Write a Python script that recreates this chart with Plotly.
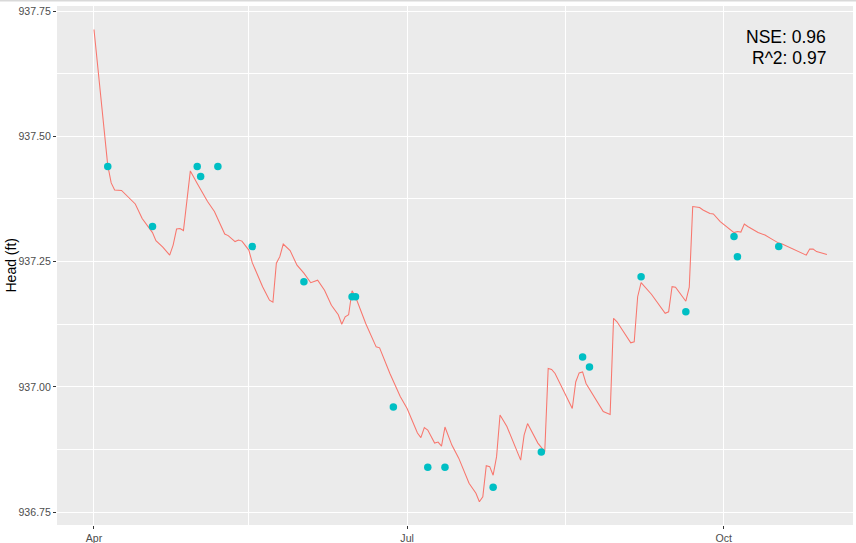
import plotly.graph_objects as go

# ---- data ----
line_dates = [
    "2019-04-01", "2019-04-05", "2019-04-06", "2019-04-07", "2019-04-09", "2019-04-11",
    "2019-04-13", "2019-04-15", "2019-04-18", "2019-04-19", "2019-04-21", "2019-04-23",
    "2019-04-24", "2019-04-25", "2019-04-26", "2019-04-27", "2019-04-29", "2019-05-01",
    "2019-05-04", "2019-05-06", "2019-05-08", "2019-05-09", "2019-05-10", "2019-05-12",
    "2019-05-13", "2019-05-14", "2019-05-16", "2019-05-17", "2019-05-20", "2019-05-22",
    "2019-05-23", "2019-05-24", "2019-05-25", "2019-05-26", "2019-05-28", "2019-05-30",
    "2019-06-01", "2019-06-03", "2019-06-05", "2019-06-07", "2019-06-09", "2019-06-11",
    "2019-06-12", "2019-06-13", "2019-06-14", "2019-06-15", "2019-06-16", "2019-06-19",
    "2019-06-22", "2019-06-23", "2019-06-26", "2019-06-29", "2019-07-01", "2019-07-04",
    "2019-07-05", "2019-07-06", "2019-07-07", "2019-07-09", "2019-07-10", "2019-07-11",
    "2019-07-12", "2019-07-14", "2019-07-16", "2019-07-19", "2019-07-21", "2019-07-22",
    "2019-07-23", "2019-07-24", "2019-07-25", "2019-07-26", "2019-07-27", "2019-07-28",
    "2019-07-30", "2019-08-03", "2019-08-04", "2019-08-05", "2019-08-08", "2019-08-10",
    "2019-08-11", "2019-08-12", "2019-08-13", "2019-08-18", "2019-08-19", "2019-08-20",
    "2019-08-21", "2019-08-22", "2019-08-27", "2019-08-29", "2019-08-30", "2019-08-31",
    "2019-09-04", "2019-09-05", "2019-09-06", "2019-09-07", "2019-09-10", "2019-09-14",
    "2019-09-15", "2019-09-16", "2019-09-17", "2019-09-20", "2019-09-21", "2019-09-22",
    "2019-09-24", "2019-09-25", "2019-09-27", "2019-09-28", "2019-09-30", "2019-10-04",
    "2019-10-05", "2019-10-06", "2019-10-07", "2019-10-08", "2019-10-11", "2019-10-13",
    "2019-10-15", "2019-10-17", "2019-10-18", "2019-10-21", "2019-10-25", "2019-10-26",
    "2019-10-27", "2019-10-28", "2019-10-31",
]
simulated_head = [
    937.713, 937.442, 937.407, 937.393, 937.392, 937.378,
    937.365, 937.336, 937.308, 937.292, 937.279, 937.263,
    937.283, 937.315, 937.316, 937.312, 937.431, 937.406,
    937.370, 937.350, 937.321, 937.305, 937.302, 937.290,
    937.293, 937.291, 937.273, 937.248, 937.200, 937.173,
    937.169, 937.247, 937.260, 937.285, 937.272, 937.243,
    937.227, 937.208, 937.213, 937.193, 937.163, 937.144,
    937.125, 937.140, 937.144, 937.192, 937.180, 937.126,
    937.080, 937.078, 937.027, 936.981, 936.957, 936.908,
    936.899, 936.919, 936.914, 936.888, 936.890, 936.882,
    936.920, 936.884, 936.858, 936.808, 936.788, 936.771,
    936.781, 936.843, 936.841, 936.824, 936.861, 936.944,
    936.921, 936.854, 936.904, 936.927, 936.888, 936.871,
    937.037, 937.035, 937.027, 936.957, 937.010, 937.028,
    937.030, 937.007, 936.951, 936.945, 937.137, 937.130,
    937.088, 937.090, 937.180, 937.208, 937.185, 937.147,
    937.150, 937.200, 937.199, 937.171, 937.199, 937.360,
    937.358, 937.353, 937.346, 937.345, 937.330, 937.308,
    937.310, 937.309, 937.325, 937.320, 937.308, 937.303,
    937.295, 937.287, 937.285, 937.275, 937.263, 937.275,
    937.275, 937.270, 937.264,
]

obs_dates = [
    "2019-04-05", "2019-04-18", "2019-05-01", "2019-05-02", "2019-05-07", "2019-05-17",
    "2019-06-01", "2019-06-15", "2019-06-16", "2019-06-27", "2019-07-07", "2019-07-12",
    "2019-07-26", "2019-08-09", "2019-08-21", "2019-08-23", "2019-09-07", "2019-09-20",
    "2019-10-04", "2019-10-05", "2019-10-17",
]
observed_head = [
    937.44, 937.32, 937.44, 937.42, 937.44, 937.28,
    937.21, 937.18, 937.18, 936.96, 936.84, 936.84,
    936.80, 936.87, 937.06, 937.04, 937.22, 937.15,
    937.30, 937.26, 937.28,
]

y_ticks = [936.75, 937.00, 937.25, 937.50, 937.75]
y_tick_labels = ["936.75", "937.00", "937.25", "937.50", "937.75"]
y_minor = [936.875, 937.125, 937.375, 937.625]
x_ticks = ["2019-04-01", "2019-07-01", "2019-10-01"]
x_tick_labels = ["Apr", "Jul", "Oct"]
x_minor = ["2019-05-16", "2019-08-16"]
stats_text = ["NSE: 0.96", "R^2: 0.97"]

# ---- figure ----
fig = go.Figure()
fig.add_trace(go.Scatter(
    x=line_dates, y=simulated_head, mode="lines",
    line=dict(color="#F8766D", width=1.05), showlegend=False, hoverinfo="skip",
))
fig.add_trace(go.Scatter(
    x=obs_dates, y=observed_head, mode="markers",
    marker=dict(color="#00BFC4", size=7.5, line=dict(width=0)), showlegend=False,
))

tickfont = dict(family="Liberation Sans, Arial, sans-serif", size=10.6, color="#4D4D4D")

fig.update_layout(
    width=856, height=543,
    margin=dict(l=57, r=3, t=6, b=18),
    paper_bgcolor="white",
    plot_bgcolor="#EBEBEB",
    font=dict(family="Liberation Sans, Arial, sans-serif"),
    xaxis=dict(
        range=["2019-03-21 06:00", "2019-11-07 14:00"],
        tickmode="array", tickvals=x_ticks, ticktext=x_tick_labels,
        showgrid=True, gridcolor="white", gridwidth=1.1,
        minor=dict(tickmode="array", tickvals=x_minor, showgrid=True,
                   gridcolor="white", gridwidth=0.55, ticks=""),
        ticks="outside", ticklen=3, tickwidth=1, tickcolor="#333333",
        tickfont=tickfont, zeroline=False, showline=False, fixedrange=True,
        automargin=False,
    ),
    yaxis=dict(
        range=[936.7246, 937.760],
        tickmode="array", tickvals=y_ticks, ticktext=y_tick_labels,
        showgrid=True, gridcolor="white", gridwidth=1.1,
        minor=dict(tickmode="array", tickvals=y_minor, showgrid=True,
                   gridcolor="white", gridwidth=0.55, ticks=""),
        ticks="outside", ticklen=3, tickwidth=1, tickcolor="#333333",
        tickfont=tickfont, zeroline=False, showline=False, fixedrange=True,
        automargin=False,
    ),
)

# y-axis title
fig.add_annotation(
    text="Head (ft)", xref="paper", yref="paper", x=-0.0578, y=0.5,
    xanchor="center", yanchor="middle", textangle=-90, showarrow=False,
    font=dict(family="Liberation Sans, Arial, sans-serif", size=14, color="black"),
)

# statistics text
for txt, ypos in zip(stats_text, [0.9412, 0.9004]):
    fig.add_annotation(
        text=txt, xref="paper", yref="paper", x=0.9686, y=ypos,
        xanchor="right", yanchor="middle", showarrow=False,
        font=dict(family="Liberation Sans, Arial, sans-serif", size=17.5, color="black"),
    )

# thin grey border line at the very top of the image
fig.add_shape(type="line", xref="paper", yref="paper", x0=-0.072, x1=1.004,
              y0=1.0106, y1=1.0106, line=dict(color="#D9D9D9", width=2))

fig.write_html("out.html")
